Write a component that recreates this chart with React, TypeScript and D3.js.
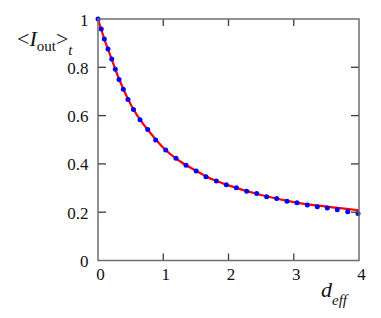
import React from 'react';
import * as d3 from 'd3';

// blue dots
const dotX = [0, 0.05, 0.097, 0.153, 0.21, 0.265, 0.322, 0.388, 0.46, 0.544, 0.644, 0.762, 0.884,
  1.038, 1.195, 1.349, 1.505, 1.655, 1.813, 1.966, 2.12, 2.279, 2.432, 2.585, 2.739, 2.897,
  3.05, 3.208, 3.361, 3.514, 3.667, 3.827, 3.985];
const dotY = [1.0, 0.959, 0.917, 0.876, 0.834, 0.792, 0.75, 0.709, 0.667, 0.625, 0.583, 0.542, 0.499,
  0.458, 0.423, 0.394, 0.371, 0.347, 0.329, 0.314, 0.301, 0.287, 0.277, 0.264, 0.257, 0.245,
  0.239, 0.23, 0.223, 0.217, 0.21, 0.202, 0.195];

// red fit curve
const lineX = [0, 0.1, 0.2, 0.3, 0.4, 0.5, 0.6, 0.8, 1.0, 1.25, 1.5, 1.75, 2.0, 2.5, 3.0, 3.5, 4.0];
const lineY = [1.0, 0.915, 0.841, 0.767, 0.703, 0.647, 0.601, 0.529, 0.467, 0.412, 0.372, 0.336, 0.311, 0.271, 0.242, 0.223, 0.208];

const xTicks = [0, 1, 2, 3, 4];
const yTicks = [0, 0.2, 0.4, 0.6, 0.8, 1];

const App = () => {
  const x = d3.scaleLinear().domain([0, 4]).range([98, 359]);
  const y = d3.scaleLinear().domain([0, 1]).range([260.5, 19]);

  const line = d3.line<number>()
    .x((d, i) => x(lineX[i]))
    .y(d => y(d))
    .curve(d3.curveMonotoneX);

  const frame = '#6e6e6e';
  const tickCol = '#3a3a3a';
  const serif = { fontFamily: 'Liberation Serif' };

  return (
    <svg width={381} height={318} style={{ position: 'absolute', left: 0, top: 0 }}>
      <rect x={0} y={0} width={381} height={318} fill="#fff" />
      <path d={line(lineY) || ''} fill="none" stroke="#ff0000" strokeWidth={2.2} />
      {dotY.map((v, i) => (
        <circle key={i} cx={x(dotX[i])} cy={y(v)} r={2.5} fill="#0000ff" />
      ))}

      {/* ticks on all four sides, pointing inward */}
      {xTicks.slice(1, -1).map(t => (
        <g key={'xt' + t} stroke={tickCol} strokeWidth={1.3}>
          <line x1={x(t)} x2={x(t)} y1={y(0)} y2={y(0) - 7} />
          <line x1={x(t)} x2={x(t)} y1={y(1)} y2={y(1) + 7} />
        </g>
      ))}
      {yTicks.slice(1, -1).map(t => (
        <g key={'yt' + t} stroke={tickCol} strokeWidth={1.3}>
          <line x1={x(0)} x2={x(0) + 8} y1={y(t)} y2={y(t)} />
          <line x1={x(4)} x2={x(4) - 8} y1={y(t)} y2={y(t)} />
        </g>
      ))}
      <rect x={x(0)} y={y(1)} width={x(4) - x(0)} height={y(0) - y(1)}
        fill="none" stroke={frame} strokeWidth={1.5} />

      {xTicks.map(t => (
        <text key={'xl' + t} x={x(t) + 2.5} y={280} textAnchor="middle" fontSize={17} fill="#111" style={serif}>{t}</text>
      ))}
      {yTicks.map(t => (
        <text key={'yl' + t} x={88.5} y={y(t) + 6.5} textAnchor="end" fontSize={17} fill="#111" style={serif}>
          {t === 0 || t === 1 ? t : t.toFixed(1)}
        </text>
      ))}

      <text x={17} y={46} fontSize={22} fill="#111" style={serif}>
        &lt;<tspan fontStyle="italic">I</tspan>
        <tspan fontSize={15} dy={4.5}>out</tspan>
        <tspan dy={-4.5}>&gt;</tspan>
        <tspan fontSize={15} fontStyle="italic" dy={9}>t</tspan>
      </text>

      <text x={321} y={297} fontSize={22} fill="#111" fontStyle="italic" style={serif}>
        d<tspan fontSize={15} dy={8}>eff</tspan>
      </text>
    </svg>
  );
};

export default App;
